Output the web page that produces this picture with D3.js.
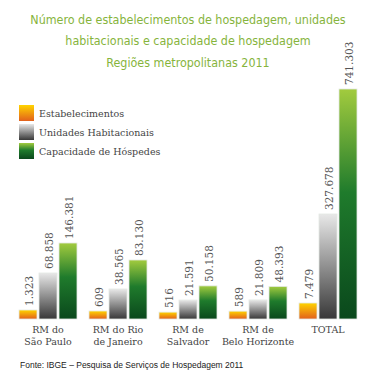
<html>
<head>
<style>
    body {
        margin: 0;
        background: #ffffff;
    }
</style>
<script src="https://d3js.org/d3.v7.min.js"></script>
</head>
<body>
<svg id="Chart"></svg>
</body>
<script>

let regions = [["RM do", "São Paulo"], ["RM do Rio", "de Janeiro"], ["RM de", "Salvador"], ["RM de", "Belo Horizonte"], ["TOTAL"]]
let seriesNames = ["Estabelecimentos", "Unidades Habitacionais", "Capacidade de Hóspedes"]
let estabelecimentos = [1323, 609, 516, 589, 7479]
let unidades = [68858, 38565, 21591, 21809, 327678]
let capacidade = [146381, 83130, 50158, 48393, 741303]
let titleLines = ["Número  de estabelecimentos de hospedagem, unidades", "habitacionais e capacidade de hospedagem", "Regiões metropolitanas 2011"]
let source = "Fonte: IBGE – Pesquisa de Serviços de Hospedagem 2011"

let width = 373, height = 384
let svg = d3.select("#Chart").attr("width", width).attr("height", height)

// gradients, one per series
let gradStops = [
  [["0%", "#ffd400"], ["100%", "#e2601c"]],
  [["0%", "#e8e8e8"], ["100%", "#383838"]],
  [["0%", "#a2cb3e"], ["45%", "#1f7b2c"], ["100%", "#0a481c"]]
]
let defs = svg.append("defs")
gradStops.forEach((stops, i) => {
  let g = defs.append("linearGradient").attr("id", "g" + i)
    .attr("x1", 0).attr("y1", 0).attr("x2", 0).attr("y2", 1)
  stops.forEach(s => g.append("stop").attr("offset", s[0]).attr("stop-color", s[1]))
})

// title
svg.append("g").selectAll("text").data(titleLines).enter().append("text")
  .attr("x", 188)
  .attr("y", (d, i) => [24, 45, 67][i])
  .attr("text-anchor", "middle")
  .style("font-family", "'DejaVu Sans Condensed', sans-serif")
  .style("font-size", "12.4px")
  .attr("fill", "#86b43c")
  .text(d => d)

// legend
let legend = svg.append("g")
seriesNames.forEach((name, i) => {
  legend.append("rect").attr("x", 19).attr("y", 105 + i * 19)
    .attr("width", 15).attr("height", 16).attr("fill", "url(#g" + i + ")")
  legend.append("text").attr("x", 39).attr("y", 117 + i * 19)
    .style("font-family", "'DejaVu Serif', serif")
    .style("font-size", "9.5px")
    .attr("fill", "#444")
    .text(name)
})

// scales
let x0 = d3.scaleBand().domain(d3.range(regions.length)).range([19, 357]).paddingInner(12 / 70)
let x1 = d3.scaleBand().domain([0, 1, 2]).range([0, x0.bandwidth()]).paddingInner(0.1)

// the original bars are not drawn to scale, so a piecewise scale follows it
let y = d3.scaleLinear()
  .domain([0, 600, 1323, 7479, 21700, 38565, 50000, 68858, 83130, 146381, 327678, 741303])
  .range([319, 311, 310, 303, 300, 289, 286, 273, 260, 243, 214, 89])

let series = [estabelecimentos, unidades, capacidade]
let bars = []
series.forEach((vals, s) => vals.forEach((v, r) => bars.push({s, r, v})))

let fmt = v => d3.format(",")(v).replace(/,/g, ".")

let barG = svg.append("g")
barG.selectAll("rect").data(bars).enter().append("rect")
  .attr("x", d => x0(d.r) + x1(d.s))
  .attr("y", d => y(d.v))
  .attr("width", x1.bandwidth())
  .attr("height", d => y(0) - y(d.v))
  .attr("fill", d => "url(#g" + d.s + ")")
  .attr("stroke", "#e4e9e4")
  .attr("stroke-width", 0.8)

barG.selectAll("text").data(bars).enter().append("text")
  .attr("transform", d => "translate(" + (x0(d.r) + x1(d.s) + x1.bandwidth() / 2 + 1) + "," + (y(d.v) - 4) + ") rotate(-90)")
  .attr("dy", "0.35em")
  .style("font-family", "'DejaVu Serif', serif")
  .style("font-size", "10.5px")
  .attr("fill", "#555")
  .text(d => fmt(d.v))

// category labels
let cat = svg.append("g")
regions.forEach((lines, r) => {
  lines.forEach((line, j) => {
    cat.append("text")
      .attr("x", x0(r) + x0.bandwidth() / 2)
      .attr("y", 333 + j * 12)
      .attr("text-anchor", "middle")
      .style("font-family", "'DejaVu Serif', serif")
      .style("font-size", "9.5px")
      .attr("fill", "#444")
      .text(line)
  })
})

// source
svg.append("text").attr("x", 20).attr("y", 368)
  .style("font-family", "'Liberation Sans', Arial, sans-serif")
  .style("font-size", "8.5px")
  .attr("fill", "#222")
  .text(source)

</script>
</html>
